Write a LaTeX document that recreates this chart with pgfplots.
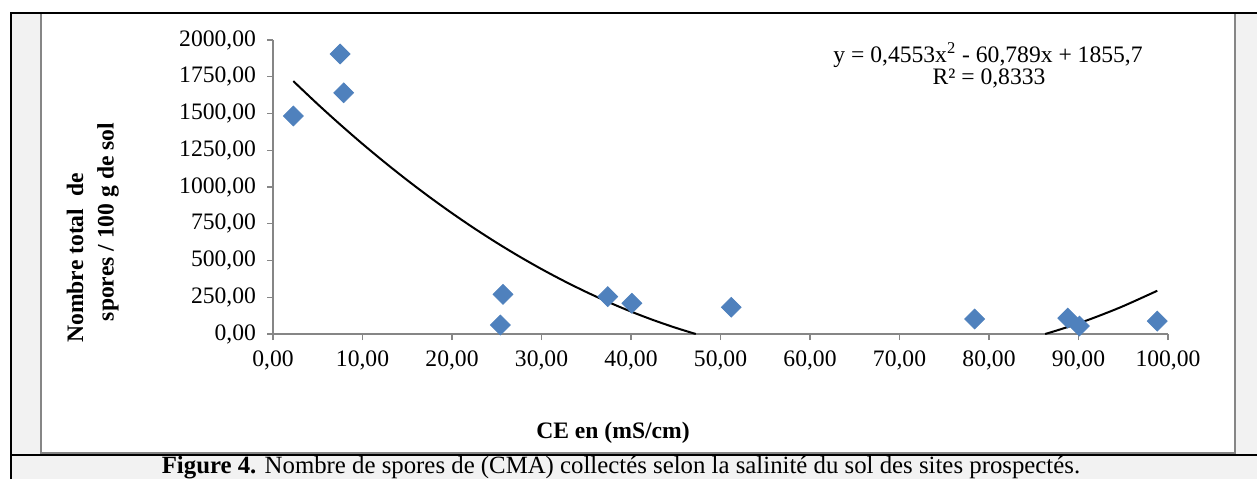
\documentclass[border=0pt]{standalone}
\usepackage{fontspec}
\setmainfont{Liberation Serif}
\usepackage{pgfplots}
\pgfplotsset{compat=1.18}
\definecolor{mk}{HTML}{4F81BD}
\definecolor{bg}{HTML}{F2F2F2}
\definecolor{axc}{HTML}{868686}
\begin{document}
\begin{tikzpicture}
\begin{scope}[x=0.5pt,y=0.5pt]
\path[use as bounding box] (0,0) rectangle (1257,479);
\fill[bg] (11,0) rectangle (1257,466);
\draw[axc, fill=white, line width=0.7pt] (41,26) rectangle (1235,466);
\draw[black, line width=1pt] (11,0) -- (11,466) -- (1257,466);
\draw[black, line width=1pt] (11,24) -- (1257,24);
\node[font=\fontsize{12.4}{14}\selectfont] at (621,11) {\textbf{Figure 4.} Nombre de spores de (CMA) collectés selon la salinité du sol des sites prospectés.};
\node[font=\fontsize{11.8}{14}\selectfont\bfseries, rotate=90] at (75,221) {Nombre total\ \ de};
\node[font=\fontsize{11.8}{14}\selectfont\bfseries, rotate=90] at (108,257) {spores / 100 g de sol};
\node[font=\fontsize{11.8}{14}\selectfont\bfseries] at (613,46) {CE en (mS/cm)};
\node[font=\fontsize{11.8}{14}\selectfont] at (988,424) {y = 0,4553x\textsuperscript{2} - 60,789x + 1855,7};
\node[font=\fontsize{11.8}{14}\selectfont] at (989,401) {R² = 0,8333};
\end{scope}
\begin{axis}[
  at={(136.5pt,72.5pt)}, anchor=south west,
  scale only axis, width=447.5pt, height=147pt,
  xmin=0, xmax=100, ymin=0, ymax=2000,
  axis lines*=left,
  axis line style={axc, line width=0.7pt},
  tick style={axc, line width=0.7pt},
  tick align=outside, major tick length=3pt,
  xtick={0,10,...,100}, ytick={0,250,...,2000},
  tick label style={font=\fontsize{11.8}{14}\selectfont},
  xticklabel style={yshift=-2pt},
  yticklabel style={xshift=-2pt},
  /pgf/number format/.cd, fixed, fixed zerofill, precision=2, use comma, 1000 sep={}, assume math mode=true,
  /pgfplots/.cd,
  clip=false,
]
\addplot[only marks, mark=square*, mark size=3.5pt, mark options={rotate=45, fill=mk, draw=mk}]
coordinates {
(2.27,1483) (7.5,1905) (7.9,1641) (25.4,61) (25.7,270) (37.4,254)
(40.1,209) (51.2,182) (78.4,102) (88.8,108) (90.1,54) (98.8,88)
};
\addplot[black, line width=1pt, smooth, no marks] coordinates {
(2.27,1720.1) (5,1563.1) (7.5,1425.4) (10,1293.3) (12.5,1167.0) (15,1046.3)
(17.5,931.3) (20,822.0) (22.5,718.4) (25,620.5) (27.5,528.3) (30,441.8)
(32.5,361.0) (35,285.8) (37.5,216.4) (40,152.6) (42.5,94.6) (45,42.2) (47.24,0)
};
\addplot[black, line width=1pt, smooth, no marks] coordinates {
(86.27,0) (88,32.1) (90,72.6) (92,116.8) (95,189.8) (98.8,294.2)
};
\end{axis}
\end{tikzpicture}
\end{document}
